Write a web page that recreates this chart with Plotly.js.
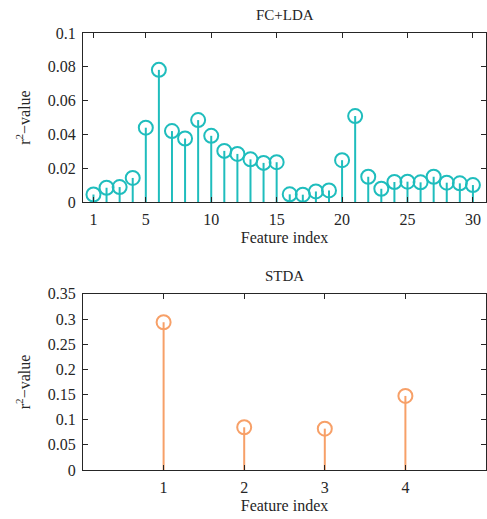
<!DOCTYPE html>
<html>
<head>
<meta charset="utf-8">
<script src="https://cdn.plot.ly/plotly-3.0.1.min.js"></script>
<style>html,body{margin:0;padding:0;background:#fff;}#chart{width:487px;height:519px;}</style>
</head>
<body>
<div id="chart"></div>
<script>
const fcIndex = [1,2,3,4,5,6,7,8,9,10,11,12,13,14,15,16,17,18,19,20,21,22,23,24,25,26,27,28,29,30];
const fcValues = [0.0045,0.0085,0.0089,0.0143,0.0440,0.0782,0.0420,0.0376,0.0485,0.0392,0.0303,0.0285,0.0253,0.0232,0.0236,0.0046,0.0044,0.0063,0.0069,0.0248,0.0509,0.0150,0.0079,0.0119,0.0121,0.0117,0.0150,0.0115,0.0111,0.0101];
const stdaIndex = [1,2,3,4];
const stdaValues = [0.2937,0.0849,0.0822,0.1472];
const topXTicks = [1,5,10,15,20,25,30];
const topYTicks = [0,0.02,0.04,0.06,0.08,0.1];
const botXTicks = [1,2,3,4];
const botYTicks = [0,0.05,0.1,0.15,0.2,0.25,0.3,0.35];

const teal = '#1fbdbd';
const orange = '#f7a068';
const font = {family:'Liberation Serif, Times New Roman, serif', size:16, color:'#262626'};
const titleFont = {family:'Liberation Serif, Times New Roman, serif', size:15, color:'#262626'};

function stem(x, y, color, xa, ya){
  return {
    x:x, y:y, xaxis:xa, yaxis:ya, type:'scatter', mode:'markers',
    marker:{symbol:'circle-open', size:14, color:color, line:{width:2, color:color}},
    error_y:{type:'data', symmetric:false, array:y.map(()=>0), arrayminus:y, width:0, thickness:2, color:color},
    hoverinfo:'skip', showlegend:false
  };
}

const axisBase = {showline:true, linecolor:'#262626', linewidth:1, mirror:'ticks', ticks:'inside', ticklen:5, tickcolor:'#262626', showgrid:false, zeroline:false, tickfont:font, ticklabelstandoff:3};

const layout = {
  width:487, height:519,
  margin:{l:83, r:1, t:33, b:49},
  paper_bgcolor:'#fff', plot_bgcolor:'#fff',
  font:font,
  showlegend:false,
  xaxis:Object.assign({}, axisBase, {domain:[0,1], anchor:'y', range:[0.2,31], tickmode:'array', tickvals:topXTicks, ticktext:topXTicks.map(String), title:{text:'Feature index', font:font, standoff:4}}),
  yaxis:Object.assign({}, axisBase, {domain:[0.613,1], anchor:'x', range:[0,0.1], tickmode:'array', tickvals:topYTicks, ticktext:topYTicks.map(String), title:{text:'r<sup>2</sup>−value', font:font, standoff:13}}),
  xaxis2:Object.assign({}, axisBase, {domain:[0,1], anchor:'y2', range:[0,5], tickmode:'array', tickvals:botXTicks, ticktext:botXTicks.map(String), title:{text:'Feature index', font:font, standoff:4}}),
  yaxis2:Object.assign({}, axisBase, {domain:[0,0.403], anchor:'x2', range:[0,0.35], tickmode:'array', tickvals:botYTicks, ticktext:botYTicks.map(String), title:{text:'r<sup>2</sup>−value', font:font, standoff:13}}),
  annotations:[
    {text:'FC+LDA', xref:'paper', yref:'paper', x:0.5, y:1, yshift:8, yanchor:'bottom', showarrow:false, font:titleFont},
    {text:'STDA', xref:'paper', yref:'paper', x:0.5, y:0.403, yshift:8, yanchor:'bottom', showarrow:false, font:titleFont}
  ]
};

Plotly.newPlot('chart', [stem(fcIndex, fcValues, teal, 'x', 'y'), stem(stdaIndex, stdaValues, orange, 'x2', 'y2')], layout, {staticPlot:true, displayModeBar:false});
</script>
</body>
</html>
